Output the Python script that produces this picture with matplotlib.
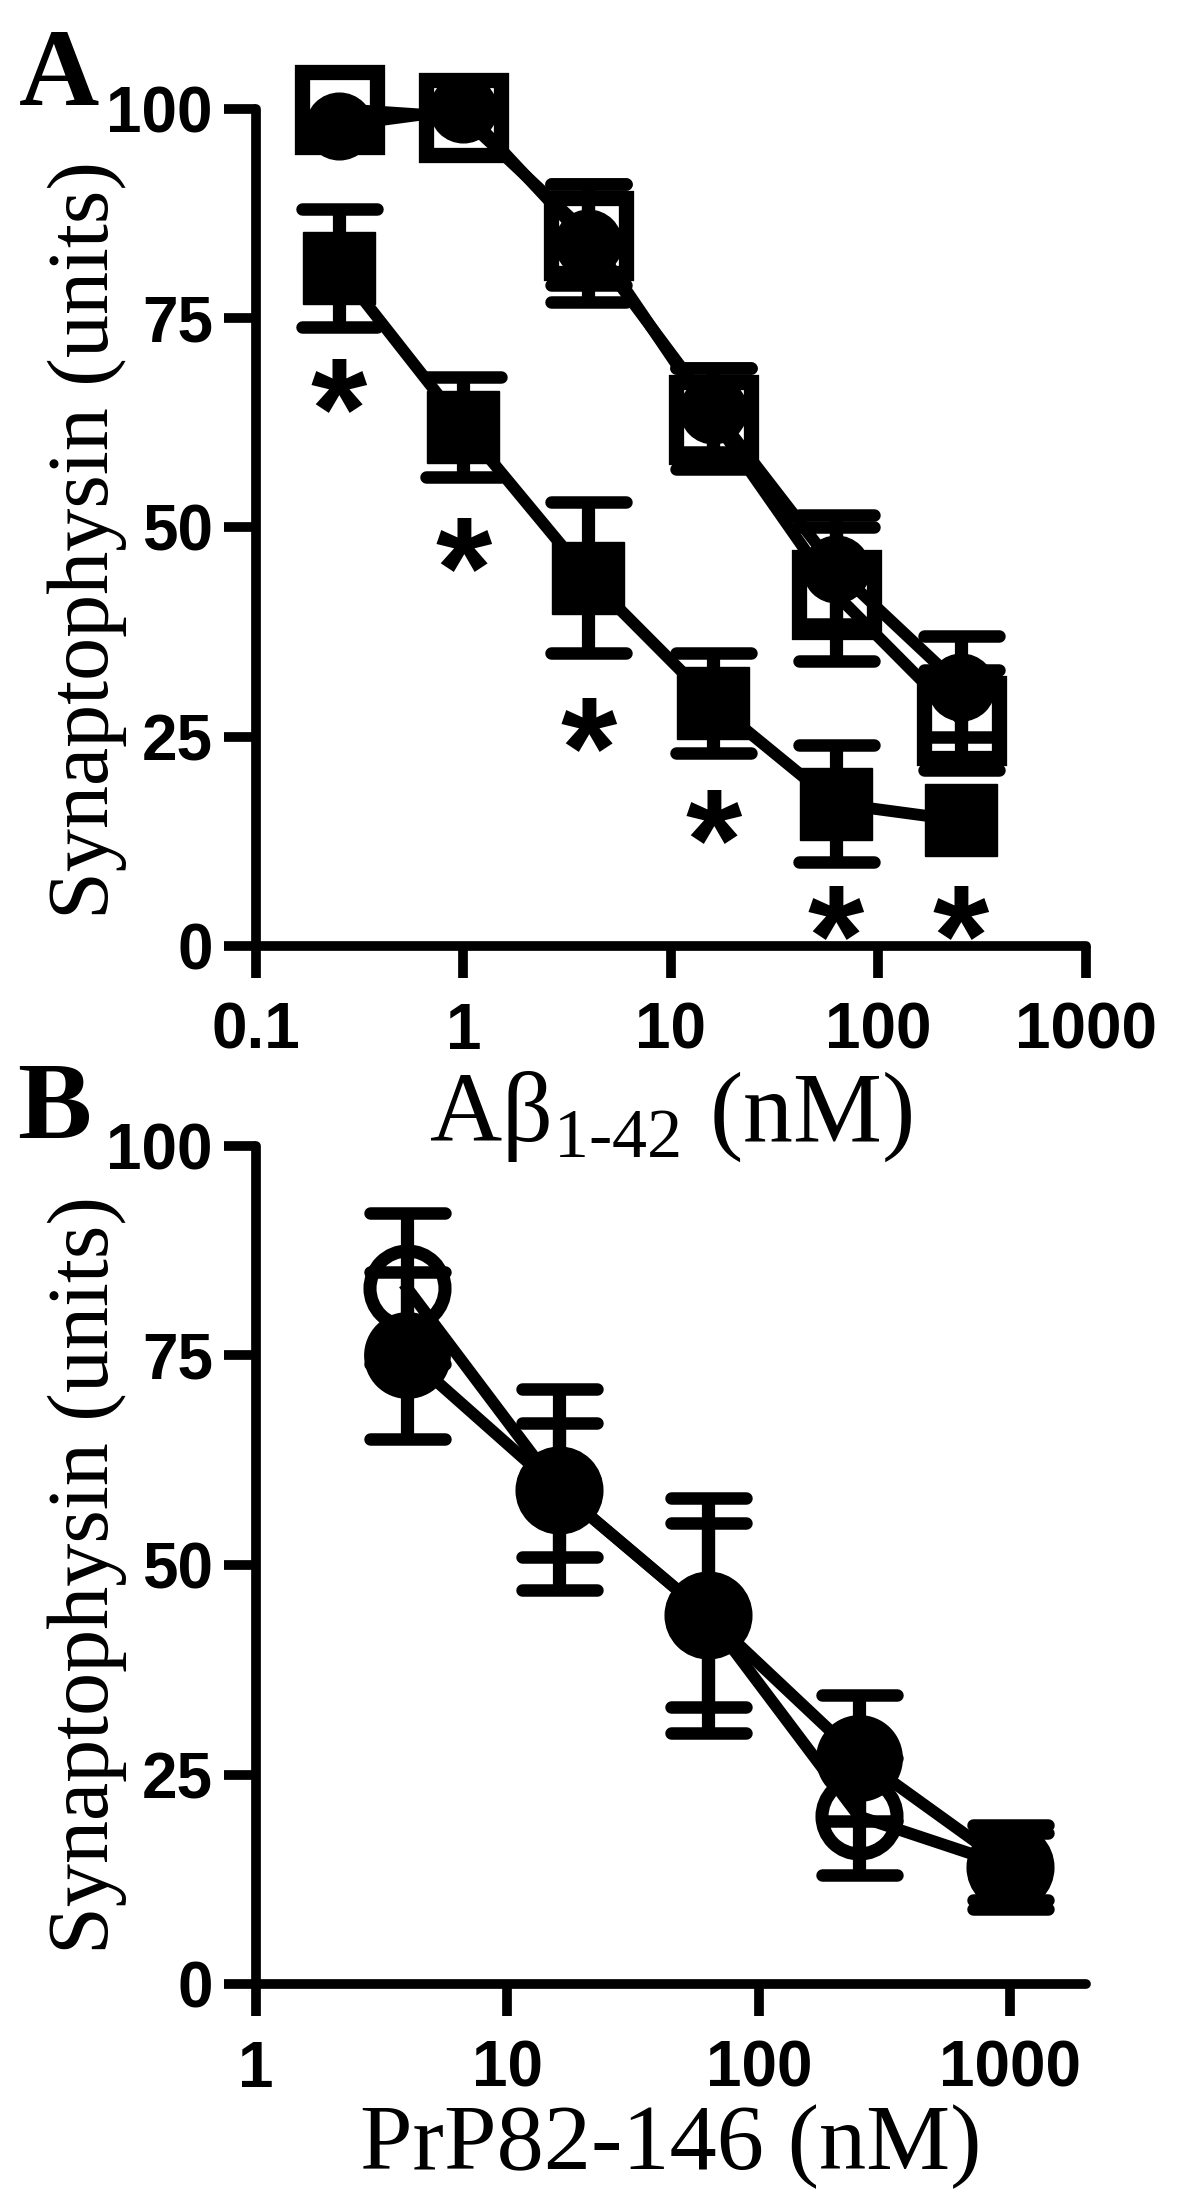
import numpy as np
import matplotlib
matplotlib.use('Agg')
import matplotlib.pyplot as plt
from matplotlib.markers import MarkerStyle
from matplotlib.ticker import FixedLocator, NullLocator

# Panel A: synaptophysin vs A-beta 1-42 concentration
abeta_nM = [0.25, 1, 4, 16, 62.5, 250]
a_open_sq = [100, 99, 85, 63, 42, 27]
a_open_sq_err = [np.nan, np.nan, 6, 6, 8, 6]
a_circle = [98, 100, 84, 64, 45, 31]
a_circle_err = [np.nan, np.nan, 7, 5, 6.5, 6]
a_filled_sq = [81, 62, 44, 29, 17, 15]
a_filled_sq_err = [7, 6, 9, 6, 7, np.nan]
a_star_y = [68, 49, 27.5, 16.5, 5, 5]

# Panel B: synaptophysin vs PrP82-146 concentration
prp_nM = [4, 16, 62.5, 250, 1000]
b_open = [83, 59, 44, 20, 14]
b_open_err = [9, 8, 11, 7, 4]
b_filled = [75, 59, 44, 27, 14]
b_filled_err = [10, 12, 14, 7.5, 5]

y_ticks = [0, 25, 50, 75, 100]
a_xticks = [0.1, 1, 10, 100, 1000]
a_xticklabels = ['0.1', '1', '10', '100', '1000']
b_xticks = [1, 10, 100, 1000]
b_xticklabels = ['1', '10', '100', '1000']

plt.rcParams['mathtext.fontset'] = 'custom'
plt.rcParams['mathtext.rm'] = 'Liberation Serif'

SERIF = 'Liberation Serif'
SANS = 'Liberation Sans'
LW = 8.5
ELW = 9.5
CAPT = 9
CAP = 27


def series(ax, x, y, err, marker, ms, mfc, mew, z):
    line, caps, bars = ax.errorbar(x, y, yerr=err, color='black', lw=LW,
                                   marker=marker, ms=ms, mfc=mfc, mec='black',
                                   mew=mew, elinewidth=ELW, capsize=CAP,
                                   capthick=CAPT, zorder=z)
    line.set_clip_on(False)
    line.set_solid_joinstyle('round')
    for c in caps:
        c.set_marker(MarkerStyle('_', capstyle='round'))
        c.set_markeredgewidth(CAPT)
        c.set_clip_on(False)
    for b in bars:
        b.set_clip_on(False)


def style_axes(ax, xlim, xticks, xticklabels):
    ax.set_xscale('log')
    ax.set_xlim(*xlim)
    ax.set_ylim(0, 100)
    ax.patch.set_visible(False)
    for s in ['top', 'right']:
        ax.spines[s].set_visible(False)
    for s in ['left', 'bottom']:
        ax.spines[s].set_linewidth(7)
        ax.spines[s].set_capstyle('round')
    ax.xaxis.set_major_locator(FixedLocator(xticks))
    ax.xaxis.set_minor_locator(NullLocator())
    ax.set_xticklabels(xticklabels)
    ax.set_yticks(y_ticks)
    ax.tick_params(axis='both', width=7, length=23, direction='out')
    ax.tick_params(axis='x', pad=17)
    ax.tick_params(axis='y', pad=8)
    for lab in ax.get_xticklabels() + ax.get_yticklabels():
        lab.set_fontfamily(SANS)
        lab.set_fontweight('bold')
        lab.set_fontsize(46)
    ax.set_ylabel('Synaptophysin (units)', fontfamily=SERIF, fontsize=62)


fig = plt.figure(figsize=(12, 21.98), dpi=100)

axB = fig.add_axes([0.21333, 0.09736, 0.69167, 0.38126])
axA = fig.add_axes([0.21333, 0.56961, 0.69167, 0.38080])

style_axes(axA, (0.1, 1000), a_xticks, a_xticklabels)
series(axA, abeta_nM, a_open_sq, a_open_sq_err, 's', 54, 'none', 11, 3)
series(axA, abeta_nM, a_circle, a_circle_err, 'o', 48, 'black', 1, 4)
series(axA, abeta_nM, a_filled_sq, a_filled_sq_err, 's', 52, 'black', 1, 5)
for xv, yv in zip(abeta_nM, a_star_y):
    axA.annotate('*', xy=(xv, yv), xytext=(0, -0.56 * 104), textcoords='offset points',
                 ha='center', va='baseline', fontsize=104, fontfamily=SANS,
                 fontweight='bold', annotation_clip=False)
axA.set_xlabel(r'A$\mathregular{\beta}_{\mathregular{1\text{-}42}}$ (nM)',
               fontfamily=SERIF, fontsize=72)
axA.xaxis.set_label_coords(0.5, -0.148)
axA.yaxis.set_label_coords(-0.155, 0.485)

style_axes(axB, (1, 2000), b_xticks, b_xticklabels)
series(axB, prp_nM, b_open, b_open_err, 'o', 54, 'none', 9.4, 3)
series(axB, prp_nM, b_filled, b_filled_err, 'o', 60, 'black', 2.5, 4)
axB.set_xlabel('PrP82-146 (nM)', fontfamily=SERIF, fontsize=68)
axB.xaxis.set_label_coords(0.5, -0.143)
axB.yaxis.set_label_coords(-0.155, 0.488)

fig.text(19 / 1200, 1 - 105 / 2198, 'A', fontfamily=SERIF, fontweight='bold',
         fontsize=80, va='baseline', ha='left')
fig.text(17 / 1200, 1 - 1138 / 2198, 'B', fontfamily=SERIF, fontweight='bold',
         fontsize=80, va='baseline', ha='left')

fig.savefig('out.png', dpi=100)
